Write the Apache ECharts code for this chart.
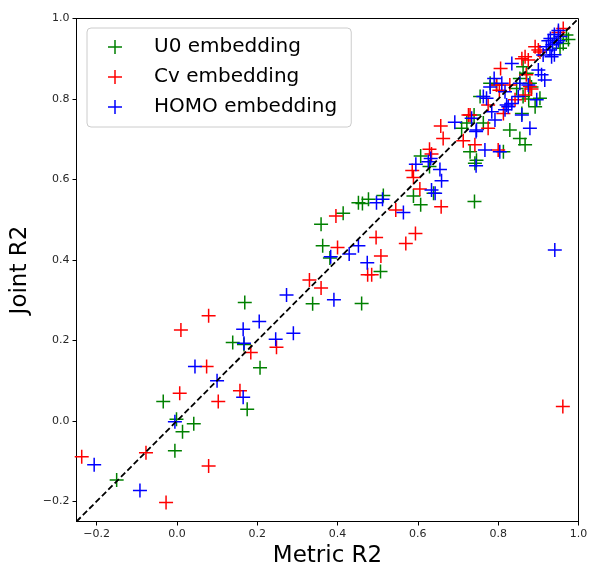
<!DOCTYPE html>
<html>
<head>
<meta charset="utf-8">
<script src="https://cdn.jsdelivr.net/npm/echarts@6/dist/echarts.min.js"></script>
<style>
  html, body { margin: 0; padding: 0; background: #ffffff; }
  #chart { width: 589px; height: 566px; }
</style>
</head>
<body>
<div id="chart"></div>
<script>
// Series names
const seriesNames = ['U0 embedding', 'Cv embedding', 'HOMO embedding'];
const seriesColors = ['#008000', '#ff0000', '#0000ff'];

// Tick values shared by both axes
const tickValues = [-0.2, 0.0, 0.2, 0.4, 0.6, 0.8, 1.0];

// [metric R2, joint R2] pairs for each embedding
const u0Points = [
  [-0.150, -0.147], [-0.034, 0.048], [-0.005, -0.074], [-0.001, 0.004], [0.014, -0.027],
  [0.042, -0.007], [0.139, 0.195], [0.175, 0.029], [0.169, 0.294], [0.167, 0.190],
  [0.207, 0.132], [0.359, 0.489], [0.414, 0.516], [0.452, 0.542], [0.462, 0.540],
  [0.477, 0.551], [0.514, 0.560], [0.363, 0.435], [0.381, 0.405], [0.338, 0.291],
  [0.460, 0.292], [0.507, 0.371], [0.589, 0.559], [0.607, 0.537], [0.607, 0.658],
  [0.629, 0.632], [0.639, 0.566], [0.709, 0.727], [0.740, 0.760], [0.730, 0.669],
  [0.746, 0.648], [0.742, 0.640], [0.741, 0.545], [0.755, 0.806], [0.722, 0.740],
  [0.763, 0.740], [0.829, 0.723], [0.854, 0.702], [0.867, 0.686], [0.859, 0.764],
  [0.892, 0.781], [0.904, 0.802], [0.862, 0.806], [0.796, 0.835], [0.780, 0.839],
  [0.862, 0.880], [0.871, 0.864], [0.883, 0.830], [0.846, 0.826], [0.962, 0.938],
  [0.954, 0.926], [0.970, 0.959], [0.813, 0.669], [0.940, 0.950], [0.876, 0.800],
  [0.879, 0.839], [0.975, 0.948], [0.854, 0.851]
];

const cvPoints = [
  [-0.237, -0.089], [-0.077, -0.079], [-0.027, -0.203], [0.007, 0.069], [0.010, 0.226],
  [0.079, 0.261], [0.074, 0.135], [0.103, 0.048], [0.079, -0.112], [0.157, 0.075],
  [0.184, 0.170], [0.248, 0.183], [0.330, 0.350], [0.359, 0.330], [0.396, 0.509],
  [0.400, 0.431], [0.496, 0.456], [0.508, 0.410], [0.475, 0.363], [0.485, 0.363],
  [0.545, 0.524], [0.570, 0.441], [0.594, 0.466], [0.605, 0.576], [0.586, 0.622],
  [0.589, 0.605], [0.629, 0.675], [0.634, 0.663], [0.658, 0.532], [0.657, 0.733],
  [0.663, 0.702], [0.713, 0.696], [0.730, 0.760], [0.742, 0.686], [0.726, 0.760],
  [0.775, 0.785], [0.775, 0.727], [0.800, 0.673], [0.803, 0.822], [0.806, 0.876],
  [0.813, 0.764], [0.829, 0.835], [0.842, 0.798], [0.867, 0.905], [0.875, 0.897],
  [0.879, 0.831], [0.892, 0.930], [0.900, 0.922], [0.904, 0.917], [0.796, 0.835],
  [0.883, 0.825], [0.962, 0.975], [0.950, 0.965], [0.961, 0.036], [0.867, 0.810],
  [0.870, 0.860], [0.859, 0.900]
];

const homoPoints = [
  [-0.206, -0.109], [-0.092, -0.173], [-0.005, -0.002], [0.045, 0.135], [0.100, 0.100],
  [0.165, 0.059], [0.165, 0.228], [0.167, 0.193], [0.205, 0.247], [0.273, 0.313],
  [0.290, 0.218], [0.246, 0.203], [0.391, 0.301], [0.383, 0.408], [0.429, 0.415],
  [0.452, 0.435], [0.474, 0.393], [0.497, 0.542], [0.512, 0.551], [0.564, 0.518],
  [0.595, 0.638], [0.632, 0.652], [0.626, 0.644], [0.655, 0.625], [0.659, 0.597],
  [0.634, 0.574], [0.643, 0.566], [0.692, 0.742], [0.745, 0.719], [0.767, 0.673],
  [0.745, 0.634], [0.734, 0.752], [0.746, 0.723], [0.771, 0.802], [0.784, 0.768],
  [0.792, 0.748], [0.780, 0.830], [0.790, 0.851], [0.809, 0.839], [0.817, 0.773],
  [0.825, 0.781], [0.834, 0.789], [0.850, 0.806], [0.859, 0.760], [0.879, 0.727],
  [0.896, 0.798], [0.834, 0.888], [0.854, 0.839], [0.875, 0.835], [0.900, 0.872],
  [0.908, 0.860], [0.929, 0.922], [0.933, 0.905], [0.941, 0.425], [0.804, 0.669],
  [0.930, 0.950], [0.940, 0.960], [0.950, 0.970], [0.945, 0.940], [0.935, 0.935],
  [0.955, 0.955], [0.920, 0.930], [0.940, 0.910], [0.925, 0.945], [0.950, 0.945],
  [0.912, 0.909], [0.916, 0.847], [0.817, 0.818], [0.763, 0.806], [0.821, 0.785]
];

// Reference identity line y = x across the axis range
const axisMin = -0.25;
const axisMax = 1.0;
const identityLine = [[axisMin, axisMin], [axisMax, axisMax]];

const plusIcon = 'path://M6.25,0H7.75V6.25H14V7.75H7.75V14H6.25V7.75H0V6.25H6.25Z';
const fontFamily = '"DejaVu Sans", sans-serif';

function tickText(v) {
  return (v < 0 ? '\u2212' : '') + Math.abs(v).toFixed(1);
}

function makeAxis(name, isX) {
  return {
    type: 'value',
    min: axisMin,
    max: axisMax,
    name: name,
    nameLocation: 'middle',
    nameGap: isX ? 11 : 38,
    nameTextStyle: { fontFamily: fontFamily, fontSize: 23, color: '#000' },
    axisLine: { show: true, onZero: false, lineStyle: { color: '#000', width: 1 } },
    axisTick: { show: true, inside: false, length: 4, customValues: tickValues,
                lineStyle: { color: '#000', width: 1 } },
    axisLabel: { show: true, customValues: tickValues, margin: 7,
                 formatter: tickText, fontFamily: fontFamily, fontSize: 11, color: '#262626' },
    splitLine: { show: false }
  };
}

const datasets = [u0Points, cvPoints, homoPoints];
const series = datasets.map((pts, i) => ({
  name: seriesNames[i],
  type: 'scatter',
  data: pts,
  symbol: plusIcon,
  symbolSize: 14,
  itemStyle: { color: seriesColors[i], opacity: 1 },
  emphasis: { disabled: true },
  z: 2 + i
}));
series.push({
  name: 'identity',
  type: 'line',
  data: identityLine,
  symbol: 'none',
  silent: true,
  lineStyle: { color: '#000', width: 1.8, type: [6, 3] },
  z: 10
});

const chart = echarts.init(document.getElementById('chart'), null, { renderer: 'canvas' });
chart.setOption({
  animation: false,
  backgroundColor: '#ffffff',
  grid: { left: 76.5, top: 18.5, width: 502, height: 503, show: true,
          outerBoundsMode: 'none', containLabel: false,
          borderColor: '#000', borderWidth: 1, backgroundColor: 'transparent' },
  xAxis: makeAxis('Metric R2', true),
  yAxis: makeAxis('Joint R2', false),
  legend: {
    data: seriesNames.map(n => ({ name: n, icon: plusIcon })),
    orient: 'vertical',
    left: 87,
    top: 28,
    padding: [9, 14, 10, 21],
    itemWidth: 14,
    itemHeight: 14,
    itemGap: 10,
    backgroundColor: '#ffffff',
    borderColor: '#cccccc',
    borderWidth: 1,
    borderRadius: 4,
    textStyle: { fontFamily: fontFamily, fontSize: 20, color: '#000',
                 lineHeight: 20, padding: [0, 0, 0, 27] }
  },
  series: series
});
</script>
</body>
</html>
